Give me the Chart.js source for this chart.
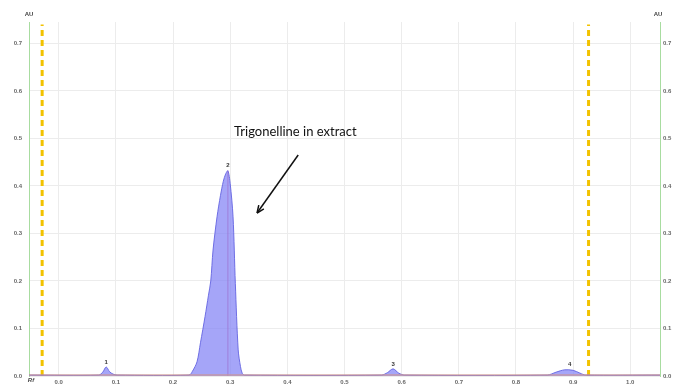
<!DOCTYPE html>
<html>
<head>
<meta charset="utf-8">
<script src="https://cdn.jsdelivr.net/npm/chart.js@4/dist/chart.umd.min.js"></script>
<style>
  html, body { margin: 0; padding: 0; background: #fff; }
  canvas { display: block; }
</style>
</head>
<body>
<canvas id="chrom" width="686" height="387"></canvas>
<script>
// Rf / AU trace
const rfValues = [-0.052, 0.070, 0.077, 0.083, 0.089, 0.095, 0.102,
  0.228, 0.234, 0.242, 0.248, 0.256, 0.262, 0.266, 0.270, 0.277, 0.283, 0.288, 0.292, 0.296,
  0.300, 0.305, 0.309, 0.314, 0.318, 0.321, 0.325,
  0.565, 0.575, 0.585, 0.595, 0.605,
  0.855, 0.870, 0.885, 0.900, 0.912, 0.922, 1.052];
const auValues = [0.002, 0.002, 0.008, 0.019, 0.009, 0.004, 0.002,
  0.002, 0.010, 0.030, 0.070, 0.125, 0.170, 0.200, 0.265, 0.335, 0.380, 0.410, 0.425, 0.432,
  0.405, 0.335, 0.195, 0.055, 0.020, 0.006, 0.002,
  0.002, 0.007, 0.015, 0.006, 0.002,
  0.002, 0.008, 0.013, 0.012, 0.006, 0.002, 0.002];

const peakNumbers = ['1', '2', '3', '4'];
const peakRf = [0.083, 0.296, 0.585, 0.894];
const peakAu = [0.019, 0.432, 0.015, 0.013];

const frontLines = [-0.029, 0.927]; // application line and solvent front
const xTicks = [0.0, 0.1, 0.2, 0.3, 0.4, 0.5, 0.6, 0.7, 0.8, 0.9, 1.0];
const yTicks = [0.0, 0.1, 0.2, 0.3, 0.4, 0.5, 0.6, 0.7];
const xMin = -0.052, xMax = 1.052, yMax = 0.745;

const noteText = 'Trigonelline in extract';
const noteAt = { x: 0.414, y: 0.514 };
const arrowFrom = { x: 0.419, y: 0.465 };
const arrowTo = { x: 0.347, y: 0.343 };

const trace = rfValues.map((x, i) => ({ x, y: auValues[i] }));
const baseline = [{ x: xMin, y: 0.002 }, { x: xMax, y: 0.002 }];

const frontSets = frontLines.map(x => ({
  data: [{ x, y: 0 }, { x, y: yMax - 0.005 }],
  borderColor: '#f2c200',
  borderWidth: 3,
  borderDash: [6, 4],
  pointRadius: 0,
  fill: false
}));

const textPlugin = {
  id: 'texts',
  afterDatasetsDraw(chart) {
    const { ctx, scales: { x, y } } = chart;
    ctx.save();
    ctx.fillStyle = '#333';
    ctx.font = 'bold 6px "Liberation Sans", Arial';
    ctx.textAlign = 'center';
    ctx.textBaseline = 'bottom';
    peakNumbers.forEach((n, i) => {
      ctx.fillText(n, x.getPixelForValue(peakRf[i]), y.getPixelForValue(peakAu[i]) - 2);
    });

    // unit labels
    ctx.fillStyle = '#444';
    ctx.textBaseline = 'middle';
    ctx.fillText('AU', chart.chartArea.left, 14);
    ctx.fillText('AU', chart.chartArea.right - 2, 14);
    ctx.font = 'italic bold 6px "Liberation Sans", Arial';
    ctx.fillText('Rf', chart.chartArea.left + 2, 380);

    // annotation
    ctx.font = '13px Lato, "Open Sans", sans-serif';
    ctx.fillStyle = '#111';
    ctx.fillText(noteText, x.getPixelForValue(noteAt.x), y.getPixelForValue(noteAt.y));

    const x1 = x.getPixelForValue(arrowFrom.x), y1 = y.getPixelForValue(arrowFrom.y);
    const x2 = x.getPixelForValue(arrowTo.x), y2 = y.getPixelForValue(arrowTo.y);
    ctx.strokeStyle = '#111';
    ctx.lineWidth = 1.5;
    ctx.beginPath();
    ctx.moveTo(x1, y1);
    ctx.lineTo(x2, y2);
    ctx.stroke();
    const ang = Math.atan2(y2 - y1, x2 - x1);
    ctx.beginPath();
    ctx.moveTo(x2, y2);
    ctx.lineTo(x2 - 8 * Math.cos(ang - 0.4), y2 - 8 * Math.sin(ang - 0.4));
    ctx.moveTo(x2, y2);
    ctx.lineTo(x2 - 8 * Math.cos(ang + 0.4), y2 - 8 * Math.sin(ang + 0.4));
    ctx.stroke();
    ctx.restore();
  }
};

const tickFont = { family: '"Liberation Sans", Arial', size: 6, weight: 'bold' };

new Chart(document.getElementById('chrom'), {
  type: 'line',
  data: {
    datasets: [
      {
        data: baseline,
        borderColor: 'rgba(205,150,145,0.8)',
        borderWidth: 1.5,
        pointRadius: 0,
        fill: false
      },
      {
        data: trace,
        borderColor: 'rgba(100,100,225,0.9)',
        backgroundColor: 'rgba(130,130,245,0.72)',
        borderWidth: 1,
        pointRadius: 0,
        tension: 0.3,
        fill: 'origin'
      },
      {
        data: [{ x: peakRf[1], y: 0 }, { x: peakRf[1], y: peakAu[1] }],
        borderColor: 'rgba(225,80,120,0.8)',
        borderWidth: 1,
        pointRadius: 0,
        fill: false
      },
      ...frontSets
    ]
  },
  options: {
    responsive: false,
    animation: false,
    layout: { padding: { top: 22, left: 0, right: 0, bottom: 0 } },
    plugins: { legend: { display: false }, tooltip: { enabled: false } },
    scales: {
      x: {
        type: 'linear',
        min: xMin,
        max: xMax,
        afterBuildTicks: s => { s.ticks = xTicks.map(v => ({ value: v })); },
        afterFit: s => { s.height = 11; },
        ticks: { font: tickFont, color: '#666', padding: 3, maxRotation: 0,
          callback: v => v.toFixed(1) },
        grid: { color: '#ececec', drawTicks: false },
        border: { display: false }
      },
      y: {
        position: 'left',
        min: 0,
        max: yMax,
        afterBuildTicks: s => { s.ticks = yTicks.map(v => ({ value: v })); },
        afterFit: s => { s.width = 29; },
        ticks: { font: tickFont, color: '#666', padding: 7, callback: v => v.toFixed(1) },
        grid: { color: '#ececec', drawTicks: false },
        border: { color: '#a8dca0', width: 1 }
      },
      y2: {
        position: 'right',
        min: 0,
        max: yMax,
        afterBuildTicks: s => { s.ticks = yTicks.map(v => ({ value: v })); },
        afterFit: s => { s.width = 26; },
        ticks: { font: tickFont, color: '#666', padding: 3, callback: v => v.toFixed(1) },
        grid: { display: false, drawTicks: false },
        border: { color: '#a8dca0', width: 1 }
      }
    }
  },
  plugins: [textPlugin]
});
</script>
</body>
</html>
